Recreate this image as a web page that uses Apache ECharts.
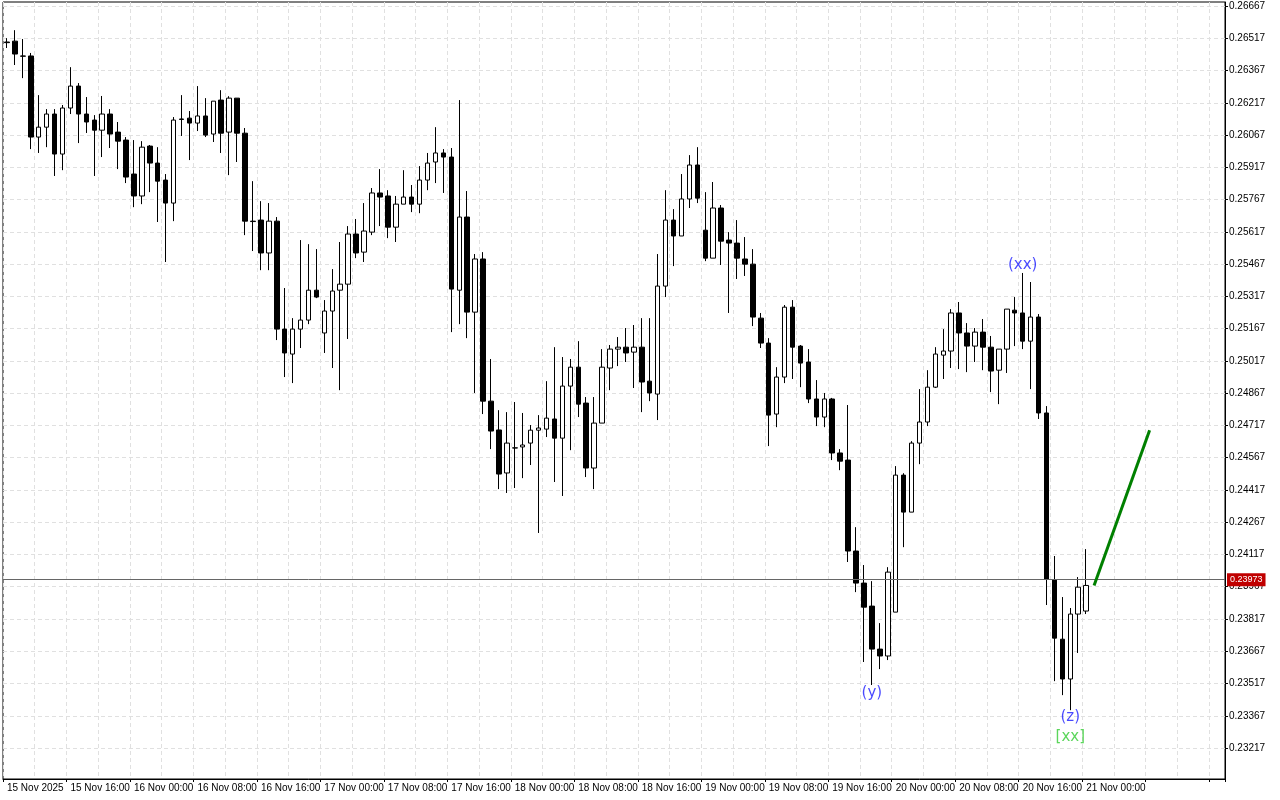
<!DOCTYPE html>
<html>
<head>
<meta charset="utf-8">
<script src="https://cdn.jsdelivr.net/npm/echarts@6/dist/echarts.min.js"></script>
<style>
html, body { margin: 0; padding: 0; background: #fff; }
#chart { width: 1280px; height: 800px; }
</style>
</head>
<body>
<div id="chart"></div>
<script>
// 1 hour bars, 15 Nov 2025 08:00 .. 21 Nov 2025 00:00
var opens = [
0.26500,0.26504,0.26435,0.26435,0.26058,0.26104,0.26165,0.25979,0.26193,0.26295,
0.26165,0.26137,0.26090,0.26165,0.26081,0.26044,0.25886,0.25784,0.26016,0.25937,
0.25858,0.25751,0.26142,0.26146,0.26123,0.26156,0.26072,0.26230,0.26081,0.26239,
0.26076,0.25667,0.25672,0.25519,0.25667,0.25165,0.25049,0.25165,0.25207,0.25346,
0.25147,0.25249,0.25346,0.25374,0.25607,0.25523,0.25616,0.25798,0.25784,0.25639,
0.25746,0.25779,0.25746,0.25858,0.25942,0.25984,0.25965,0.25346,0.25686,0.25244,
0.25491,0.24830,0.24696,0.24496,0.24612,0.24617,0.24635,0.24695,0.24700,0.24747,
0.24658,0.24900,0.24988,0.24821,0.24519,0.24728,0.24984,0.25072,0.25081,0.25058,
0.25081,0.24923,0.24863,0.25365,0.25672,0.25598,0.25770,0.25928,0.25625,0.25495,
0.25728,0.25579,0.25565,0.25491,0.25467,0.25216,0.25100,0.24770,0.24942,0.25267,
0.25086,0.25012,0.24840,0.24756,0.24840,0.24589,0.24556,0.24133,0.23984,0.23877,
0.23677,0.23645,0.23849,0.24486,0.24314,0.24635,0.24733,0.24895,0.25044,0.25063,
0.25240,0.25147,0.25086,0.25151,0.25081,0.24974,0.25072,0.25253,0.25240,0.25109,
0.25221,0.24775,0.23998,0.23723,0.23538,0.23840,0.23854
];
var closes = [
0.26497,0.26444,0.26434,0.26058,0.26104,0.26165,0.25979,0.26193,0.26295,0.26165,
0.26128,0.26090,0.26165,0.26072,0.26039,0.25872,0.25784,0.26011,0.25937,0.25853,
0.25751,0.26137,0.26140,0.26123,0.26156,0.26067,0.26225,0.26076,0.26239,0.26076,
0.25667,0.25665,0.25519,0.25667,0.25165,0.25054,0.25165,0.25207,0.25346,0.25314,
0.25249,0.25342,0.25374,0.25607,0.25519,0.25621,0.25798,0.25779,0.25639,0.25746,
0.25779,0.25746,0.25858,0.25937,0.25984,0.25965,0.25351,0.25686,0.25244,0.25491,
0.24830,0.24691,0.24491,0.24635,0.24613,0.24626,0.24695,0.24705,0.24751,0.24658,
0.24900,0.24988,0.24816,0.24519,0.24728,0.24988,0.25072,0.25081,0.25054,0.25081,
0.24919,0.24868,0.25365,0.25672,0.25598,0.25770,0.25928,0.25774,0.25495,0.25728,
0.25574,0.25565,0.25495,0.25467,0.25221,0.25100,0.24765,0.24942,0.25267,0.25081,
0.25007,0.24840,0.24756,0.24840,0.24589,0.24551,0.24133,0.23984,0.23872,0.23677,
0.23645,0.24035,0.24486,0.24314,0.24635,0.24733,0.24895,0.25049,0.25063,0.25240,
0.25147,0.25086,0.25151,0.25081,0.24970,0.25072,0.25258,0.25240,0.25109,0.25221,
0.24775,0.24003,0.23728,0.23538,0.23840,0.23965,0.23973
];
var lows = [
0.26472,0.26393,0.26332,0.26002,0.25984,0.26011,0.25877,0.25904,0.26165,0.26030,
0.26077,0.25877,0.25965,0.26007,0.25909,0.25844,0.25732,0.25746,0.25802,0.25663,
0.25477,0.25667,0.26063,0.25951,0.26086,0.26058,0.26035,0.25984,0.25881,0.25942,
0.25602,0.25528,0.25439,0.25439,0.25114,0.24942,0.24914,0.25077,0.25188,0.25309,
0.25054,0.24984,0.24881,0.25119,0.25495,0.25477,0.25602,0.25644,0.25588,0.25570,
0.25746,0.25709,0.25704,0.25811,0.25844,0.25798,0.25151,0.25188,0.25123,0.24868,
0.24770,0.24607,0.24421,0.24403,0.24426,0.24472,0.24533,0.24217,0.24663,0.24454,
0.24389,0.24602,0.24756,0.24477,0.24421,0.24728,0.24881,0.24993,0.25012,0.24891,
0.24779,0.24830,0.24742,0.25314,0.25458,0.25598,0.25728,0.25751,0.25481,0.25495,
0.25463,0.25240,0.25398,0.25412,0.25179,0.25077,0.24621,0.24709,0.24914,0.24933,
0.24895,0.24821,0.24714,0.24709,0.24556,0.24509,0.24082,0.23942,0.23617,0.23510,
0.23584,0.23626,0.23849,0.24151,0.24314,0.24537,0.24714,0.24891,0.24933,0.24984,
0.24979,0.24965,0.25012,0.24974,0.24872,0.24816,0.24961,0.25086,0.25072,0.24886,
0.24747,0.23882,0.23528,0.23463,0.23393,0.23659,0.23840
];
var highs = [
0.26518,0.26555,0.26514,0.26449,0.26253,0.26188,0.26188,0.26207,0.26383,0.26309,
0.26244,0.26160,0.26249,0.26188,0.26128,0.26058,0.26044,0.26039,0.26021,0.26011,
0.25886,0.26151,0.26253,0.26179,0.26295,0.26239,0.26225,0.26276,0.26248,0.26239,
0.26100,0.25853,0.25760,0.25751,0.25686,0.25356,0.25216,0.25579,0.25560,0.25537,
0.25300,0.25444,0.25570,0.25644,0.25677,0.25751,0.25821,0.25909,0.25811,0.25784,
0.25904,0.25835,0.25923,0.25984,0.26104,0.26002,0.26007,0.26230,0.25807,0.25514,
0.25523,0.25026,0.24788,0.24779,0.24826,0.24775,0.24719,0.24765,0.24923,0.25081,
0.25035,0.25026,0.25109,0.24849,0.24849,0.25072,0.25091,0.25128,0.25170,0.25184,
0.25216,0.25216,0.25514,0.25811,0.25723,0.25886,0.25974,0.26011,0.25802,0.25849,
0.25742,0.25616,0.25672,0.25593,0.25537,0.25240,0.25123,0.24988,0.25277,0.25300,
0.25091,0.25072,0.24928,0.24868,0.24845,0.24607,0.24812,0.24244,0.24068,0.23993,
0.23798,0.24058,0.24528,0.24495,0.24644,0.24886,0.24974,0.25081,0.25165,0.25258,
0.25291,0.25193,0.25170,0.25212,0.25133,0.25072,0.25258,0.25314,0.25426,0.25384,
0.25235,0.24807,0.24110,0.23919,0.23868,0.24012,0.24142
];
var tickValues = [
'0.23217','0.23367','0.23517','0.23667','0.23817','0.23967','0.24117','0.24267',
'0.24417','0.24567','0.24717','0.24867','0.25017','0.25167','0.25317','0.25467',
'0.25617','0.25767','0.25917','0.26067','0.26217','0.26367','0.26517','0.26667'
];
var currentPrice = 0.23973;
// projection line: [bar index, price]
var projection = [[137, 0.23973], [144, 0.24695]];
// wave marks: [bar index, price, text, colour]
var waveLabels = [
	[109, 0.23473, '(y)', '#1a1aff'],
	[128, 0.25463, '(xx)', '#1a1aff'],
	[134, 0.23361, '(z)', '#1a1aff'],
	[134, 0.23268, '[xx]', '#33cc33']
];
var emptyBars = 17;

var months = ['Jan','Feb','Mar','Apr','May','Jun','Jul','Aug','Sep','Oct','Nov','Dec'];
var categories = [];
var start = Date.UTC(2025, 10, 15, 8, 0);
for (var i = 0; i < opens.length; i++) {
	var d = new Date(start + i * 3600 * 1000);
	var hh = ('0' + d.getUTCHours()).slice(-2);
	var label = d.getUTCDate() + ' ' + months[d.getUTCMonth()] + ' ';
	label += (i === 0) ? '2025' : hh + ':00';
	categories.push(label);
}
for (var i = 0; i < emptyBars; i++) categories.push('');

var candles = [];
for (var i = 0; i < opens.length; i++) {
	candles.push([opens[i], closes[i], lows[i], highs[i]]);
}
for (var i = 0; i < emptyBars; i++) candles.push('-');

var lineData = [];
for (var i = 0; i < categories.length; i++) lineData.push(null);
projection.forEach(function (p) { lineData[p[0]] = p[1]; });

var font = 'Liberation Sans';
var chart = echarts.init(document.getElementById('chart'));
var option = {
	animation: false,
	backgroundColor: '#ffffff',
	grid: {
		left: 3, right: 55, top: 2, bottom: 21,
		show: true, borderColor: '#000', borderWidth: 1
	},
	xAxis: {
		type: 'category',
		data: categories,
		boundaryGap: true,
		axisLine: { lineStyle: { color: '#000' } },
		axisTick: { show: true, interval: 7, length: 3, lineStyle: { color: '#000' } },
		axisLabel: {
			interval: 7, align: 'left', margin: 4,
			color: '#000', fontFamily: font, fontSize: 10
		},
		splitLine: { show: true, interval: 3, lineStyle: { color: '#e0e0e0', type: [4, 3] } }
	},
	yAxis: {
		type: 'value',
		position: 'right',
		scale: true,
		min: 0.23073,
		max: 0.26686,
		axisLine: { show: true, lineStyle: { color: '#000' } },
		axisTick: { show: true, length: 3, customValues: tickValues.map(Number), lineStyle: { color: '#000' } },
		axisLabel: {
			customValues: tickValues.map(Number), margin: 4,
			color: '#000', fontFamily: font, fontSize: 10,
			formatter: function (v) { return v.toFixed(5); }
		},
		splitLine: { show: true, lineStyle: { color: '#e0e0e0', type: [4, 3] } }
	},
	series: [{
		type: 'candlestick',
		data: candles,
		barWidth: 5,
		itemStyle: {
			color: '#ffffff', color0: '#000000',
			borderColor: '#000000', borderColor0: '#000000', borderWidth: 1
		},
		markLine: {
			silent: true,
			symbol: 'none',
			lineStyle: { color: '#666', width: 1, type: 'solid' },
			label: {
				position: 'end', distance: 2,
				formatter: currentPrice.toFixed(5),
				color: '#fff', backgroundColor: '#c00000',
				fontFamily: font, fontSize: 9, padding: [2, 3]
			},
			data: [{ yAxis: currentPrice }]
		}
	}, {
		type: 'line',
		data: lineData,
		connectNulls: true,
		showSymbol: false,
		lineStyle: { color: '#008000', width: 3 },
		z: 5
	}, {
		type: 'scatter',
		symbolSize: 0,
		data: waveLabels.map(function (w) {
			return {
				value: [w[0], w[1]],
				label: { show: true, position: 'inside', formatter: w[2], color: w[3], fontSize: 15, fontFamily: 'DejaVu Sans' }
			};
		}),
		z: 6
	}]
};
chart.setOption(option);
</script>
</body>
</html>
